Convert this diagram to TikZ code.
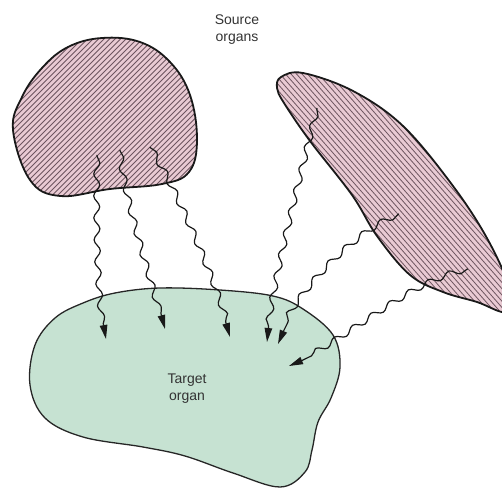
\documentclass[tikz,border=0pt]{standalone}
\usepackage{fontspec}
\setmainfont{Liberation Sans}
\usetikzlibrary{decorations.pathmorphing,arrows.meta}
\definecolor{pinkfill}{HTML}{E9CAD3}
\definecolor{greenfill}{HTML}{C6E2D2}
\definecolor{hatchc}{HTML}{6E5560}
\definecolor{txt}{HTML}{333333}
\tikzset{
  organ/.style={draw=black!90, line width=1.8pt},
  target/.style={draw=black!85, line width=1.3pt, fill=greenfill},
  wave/.style={draw=black!90, line width=1.2pt,
    decorate, decoration={snake, segment length=22pt, amplitude=3pt, pre length=1pt, post length=14pt},
    -{Triangle[length=14pt,width=7.5pt]}},
  hatchline/.style={draw=hatchc, line width=0.8pt},
  lbl/.style={text=txt, align=center, font=\fontsize{14}{17}\selectfont, inner sep=0pt}
}
\begin{document}
\begin{tikzpicture}[x=1pt,y=-1pt]
\useasboundingbox (0,0) rectangle (502,489);
\clip (0,0) rectangle (502,489);
% Target organ
\path[target] plot[smooth cycle, tension=0.6] coordinates {(83,303) (115,293) (160,288) (220,290) (273,296) (303,309) (333,335) (340,367) (331,398) (318,422) (312,450) (305,472) (280,487) (233,473) (185,456) (143,447) (83,437) (45,418) (30,385) (35,345) (55,318)};
\node[lbl] (tgt) at (187,389) {Target\\organ};
% Left source organ
\def\leftblob{plot[smooth cycle, tension=0.65] coordinates {(13,130) (22,97) (42,68) (68,47) (102,38) (140,42) (170,62) (190,95) (197,140) (189,172) (162,184) (110,189) (60,196) (30,180)}}
\path[fill=pinkfill] \leftblob;
\begin{scope}
\clip \leftblob;
\foreach \i in {-220,-214.5,...,220} {\draw[hatchline] (\i,220) -- ++(200,-200);}
\end{scope}
\path[organ] \leftblob;
% Right source organ
\def\rightblob{plot[smooth cycle, tension=0.6] coordinates {(281,77) (303,73) (353,91) (403,126) (453,186) (488,240) (510,290) (506,312) (477,302) (443,292) (410,275) (377,236) (352,195) (310,141) (284,103) (277,88)}}
\path[fill=pinkfill] \rightblob;
\begin{scope}
\clip \rightblob;
\foreach \i in {150,155.5,...,620} {\draw[hatchline] (\i,320) -- ++(-220,-250);}
\end{scope}
\path[organ] \rightblob;
% Labels
\node[lbl] (src) at (237,30) {Source\\organs};
% Start and end coordinates
\coordinate (s1) at (97,155);  \coordinate (t1) at (106,339);
\coordinate (s2) at (120,150); \coordinate (t2) at (165,329);
\coordinate (s3) at (150,147); \coordinate (t3) at (230,337);
\coordinate (s4) at (317,108); \coordinate (t4) at (267,342);
\coordinate (s5) at (399,214); \coordinate (t5) at (278,344);
\coordinate (s6) at (468,269); \coordinate (t6) at (289,366);
\draw[wave] (s1) .. controls (96,240) and (98,300) .. (t1);
\draw[wave] (s2) .. controls (125,200) and (150,270) .. (t2);
\draw[wave] (s3) .. controls (168,175) and (212,270) .. (t3);
\draw[wave] (s4) .. controls (302,170) and (272,280) .. (t4);
\draw[wave] (s5) .. controls (360,230) and (298,290) .. (t5);
\draw[wave] (s6) .. controls (410,282) and (345,345) .. (t6);
\end{tikzpicture}
\end{document}
